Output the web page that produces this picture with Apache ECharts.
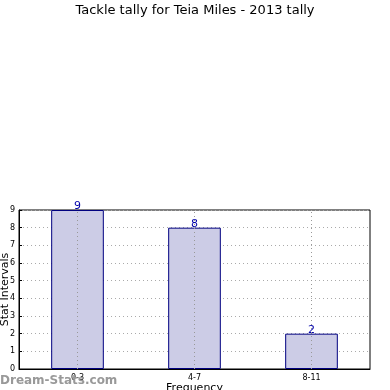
<!DOCTYPE html>
<html><head><meta charset="utf-8">
<script src="https://cdn.jsdelivr.net/npm/echarts@6/dist/echarts.min.js"></script>
<style>html,body{margin:0;padding:0;background:#fff}#c{width:390px;height:390px}</style>
</head><body><div id="c"></div>
<script>
const categories = ['0-3', '4-7', '8-11'];
const values = [9, 8, 2];
const yTicks = [0,1,2,3,4,5,6,7,8,9];

const chart = echarts.init(document.getElementById('c'), null, {renderer:'canvas'});
chart.setOption({
  animation: false,
  backgroundColor: '#fff',
  title: {
    text: 'Tackle tally for Teia Miles - 2013 tally',
    left: 'center', top: -1,
    textStyle: {fontFamily: 'DejaVu Sans', fontSize: 13, fontWeight: 'normal', color: '#000'}
  },
  graphic: [{
    type: 'text', left: 0, top: 375, z: 100,
    style: {text: 'Dream-Stats.com', fontFamily: 'DejaVu Sans', fontSize: 12, fontWeight: 'bold', fill: '#999'}
  }],
  grid: {left: 19, right: 20, top: 210, bottom: 21, show: true, borderColor: '#000', borderWidth: 1,
         containLabel: false, outerBoundsMode: 'none'},
  xAxis: {
    type: 'category', data: categories,
    name: 'Frequency', nameLocation: 'middle', nameGap: 14, nameMoveOverlap: false,
    nameTextStyle: {fontFamily: 'DejaVu Sans', fontSize: 11, color: '#000'},
    axisLine: {show: true, lineStyle: {color: '#000'}},
    axisTick: {show: false},
    axisLabel: {fontFamily: 'DejaVu Sans', fontSize: 8, color: '#000', margin: 5},
    splitLine: {show: false}
  },
  yAxis: {
    type: 'value', min: 0, max: 9, interval: 1,
    name: 'Stat Intervals', nameLocation: 'middle', nameGap: 8, nameMoveOverlap: false,
    nameTextStyle: {fontFamily: 'DejaVu Sans', fontSize: 11, color: '#000'},
    axisLine: {show: true, lineStyle: {color: '#000'}},
    axisTick: {show: true, inside: true, length: 3, lineStyle: {color: '#000'}},
    axisLabel: {fontFamily: 'DejaVu Sans', fontSize: 8, color: '#000', margin: 4},
    splitLine: {show: true, lineStyle: {color: '#aaa', type: [1, 3]}}
  },
  series: [{
    type: 'bar', data: values, barWidth: '45%', z: 2,
    itemStyle: {color: '#ccccе6'.replace('е','e'), borderColor: '#000080', borderWidth: 1},
    label: {show: true, position: 'top', distance: -2, color: '#0000aa', fontFamily: 'DejaVu Sans', fontSize: 11}
  }, {
    type: 'line', data: [], z: 10, silent: true,
    markLine: {
      silent: true, symbol: 'none',
      label: {show: false},
      lineStyle: {color: '#999', type: [1, 3], width: 1},
      data: categories.map(c => ({xAxis: c}))
    }
  }]
});
</script></body></html>
